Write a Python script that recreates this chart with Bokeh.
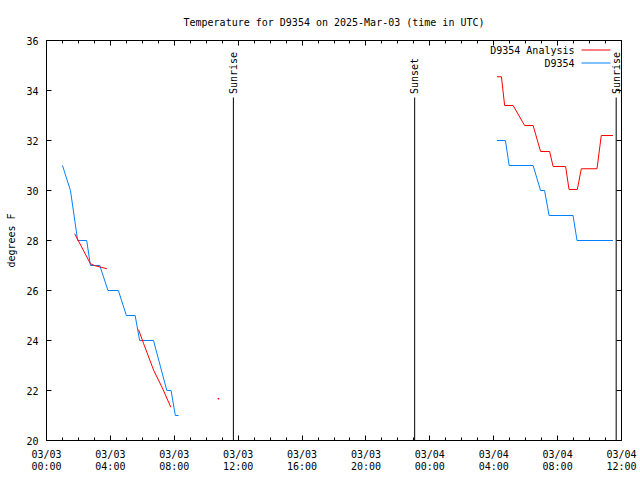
import math
import pandas as pd
from bokeh.plotting import figure
from bokeh.models import (Range1d, FixedTicker, DatetimeAxis, LinearAxis,
                          DatetimeTickFormatter, Label, Arrow)
from bokeh.core.properties import value
from bokeh.embed import file_html
from bokeh.resources import INLINE

# ---------------- data ----------------
title_text = "Temperature for D9354 on 2025-Mar-03 (time in UTC)"
y_label = "degrees F"
series_obs = "D9354"
series_ana = "D9354 Analysis"

# observations, morning of 03/03
obs1_times = ["2025-03-03 01:00", "2025-03-03 01:30", "2025-03-03 01:57", "2025-03-03 02:31",
              "2025-03-03 02:45", "2025-03-03 03:20", "2025-03-03 03:51", "2025-03-03 04:30",
              "2025-03-03 05:00", "2025-03-03 05:33", "2025-03-03 05:50", "2025-03-03 06:42",
              "2025-03-03 07:32", "2025-03-03 07:48", "2025-03-03 08:04", "2025-03-03 08:16"]
obs1_vals = [31, 30, 28, 28, 27, 27, 26, 26, 25, 25, 24, 24, 22, 22, 21, 21]

# observations, morning of 03/04
obs2_times = ["2025-03-04 04:12", "2025-03-04 04:44", "2025-03-04 04:58", "2025-03-04 06:28",
              "2025-03-04 06:56", "2025-03-04 07:11", "2025-03-04 07:28", "2025-03-04 08:58",
              "2025-03-04 09:13", "2025-03-04 11:28"]
obs2_vals = [32, 32, 31, 31, 30, 30, 29, 29, 28, 28]

# analysis segments
ana1_times = ["2025-03-03 01:46", "2025-03-03 02:45", "2025-03-03 03:00", "2025-03-03 03:47"]
ana1_vals = [28.27, 27.07, 27.0, 26.87]

ana2_times = ["2025-03-03 05:46", "2025-03-03 06:05", "2025-03-03 06:43", "2025-03-03 07:14",
              "2025-03-03 07:47"]
ana2_vals = [24.43, 23.87, 22.8, 22.13, 21.33]

ana_dot_times = ["2025-03-03 10:46"]
ana_dot_vals = [21.67]

ana3_times = ["2025-03-04 04:12", "2025-03-04 04:29", "2025-03-04 04:41", "2025-03-04 05:13",
              "2025-03-04 05:56", "2025-03-04 06:28", "2025-03-04 06:56", "2025-03-04 07:30",
              "2025-03-04 07:43", "2025-03-04 08:30", "2025-03-04 08:43", "2025-03-04 09:14",
              "2025-03-04 09:29", "2025-03-04 10:28", "2025-03-04 10:44", "2025-03-04 11:28"]
ana3_vals = [34.55, 34.55, 33.4, 33.4, 32.6, 32.6, 31.56, 31.56,
             30.96, 30.96, 30.04, 30.04, 30.87, 30.87, 32.2, 32.2]

event_times = ["2025-03-03 11:42", "2025-03-03 23:03", "2025-03-04 11:40"]
event_names = ["Sunrise", "Sunset", "Sunrise"]

x_start = "2025-03-03 00:00"
x_end = "2025-03-04 12:00"
y_ticks = [20, 22, 24, 26, 28, 30, 32, 34, 36]

# ---------------- style ----------------
FONT = "DejaVu Sans Mono"
FS = "10px"
RED = "#ff0000"
BLUE = "#0080ff"

def dt(lst):
    return pd.to_datetime(lst)

def ms(ts):
    return pd.Timestamp(ts).value / 1e6

p = figure(frame_width=575, frame_height=400, output_backend="svg", toolbar_location=None,
           x_axis_type="datetime",
           x_range=Range1d(pd.Timestamp(x_start), pd.Timestamp(x_end)),
           y_range=Range1d(y_ticks[0], y_ticks[-1]),
           min_border_left=46, min_border_right=19, min_border_top=40, min_border_bottom=40)
p.background_fill_color = "white"
p.border_fill_color = "white"
p.outline_line_color = "black"
p.outline_line_width = 1
p.xgrid.visible = False
p.ygrid.visible = False

p.title.text = title_text
p.title.align = "center"
p.title.text_font = FONT
p.title.text_font_size = FS
p.title.text_font_style = "normal"
p.title.text_color = "black"
p.title.standoff = 26

major_x = [ms(t) for t in pd.date_range(x_start, x_end, freq="4h")]
minor_x = [ms(t) for t in pd.date_range(x_start, x_end, freq="1h")]
xt = FixedTicker(ticks=major_x, minor_ticks=minor_x)
yt = FixedTicker(ticks=y_ticks, minor_ticks=[])
fmt = "%m/%d\n%H:%M"
xf = DatetimeTickFormatter(hours=fmt, hourmin=fmt, days=fmt, minutes=fmt, minsec=fmt,
                           seconds=fmt, months=fmt, years=fmt)

def style_axis(ax, show_labels):
    ax.axis_line_color = "black"
    ax.major_tick_line_color = "black"
    ax.minor_tick_line_color = "black"
    ax.major_tick_in = 5
    ax.major_tick_out = 0
    ax.minor_tick_in = 3
    ax.minor_tick_out = 0
    ax.major_label_text_font = FONT
    if show_labels:
        ax.major_label_text_font_size = FS
        ax.major_label_text_color = "black"
    else:
        ax.major_label_text_font_size = "1px"
        ax.major_label_text_color = None
        ax.major_label_standoff = 0

xa = p.xaxis[0]
xa.ticker = xt
xa.formatter = xf
style_axis(xa, True)
xa.major_label_standoff = 8
xa.major_label_text_line_height = 1.15

ya = p.yaxis[0]
ya.ticker = yt
style_axis(ya, True)
ya.major_label_standoff = 8
ya.axis_label = y_label
ya.axis_label_text_font = FONT
ya.axis_label_text_font_size = FS
ya.axis_label_text_font_style = "normal"
ya.axis_label_text_color = "black"
ya.axis_label_standoff = 6

top = DatetimeAxis(ticker=xt, formatter=xf)
style_axis(top, False)
p.add_layout(top, "above")
right = LinearAxis(ticker=yt)
style_axis(right, False)
p.add_layout(right, "right")

# sunrise / sunset markers
ev_x = dt(event_times)
p.segment(x0=ev_x, y0=[y_ticks[0]] * len(ev_x), x1=ev_x, y1=[33.72] * len(ev_x),
          line_color="black", line_width=1)
p.text(x=ev_x, y=[33.86] * len(ev_x), text=event_names, angle=math.pi / 2,
       text_align="left", text_baseline="middle", text_font=value(FONT),
       text_font_size=FS, text_color="black")

# data lines
p.line(dt(obs1_times), obs1_vals, line_color=BLUE, line_width=1)
p.line(dt(obs2_times), obs2_vals, line_color=BLUE, line_width=1)
p.line(dt(ana1_times), ana1_vals, line_color=RED, line_width=1)
p.line(dt(ana2_times), ana2_vals, line_color=RED, line_width=1)
p.line(dt(ana3_times), ana3_vals, line_color=RED, line_width=1)
p.scatter(dt(ana_dot_times), ana_dot_vals, marker="square", size=1.5,
          fill_color=RED, line_color=None)

# key (gnuplot style: text right-aligned, sample to the right)
for name, color, yy in [(series_ana, RED, 390.5), (series_obs, BLUE, 377.5)]:
    p.add_layout(Label(x=528, y=yy, x_units="screen", y_units="screen", text=name,
                       text_align="right", text_baseline="middle", text_font=FONT,
                       text_font_size=FS, text_color="black"))
    p.add_layout(Arrow(x_start=535, y_start=yy, x_end=564, y_end=yy,
                       start_units="screen", end_units="screen", start=None, end=None,
                       line_color=color, line_width=1))

open("out.html", "w").write(file_html(p, INLINE))
